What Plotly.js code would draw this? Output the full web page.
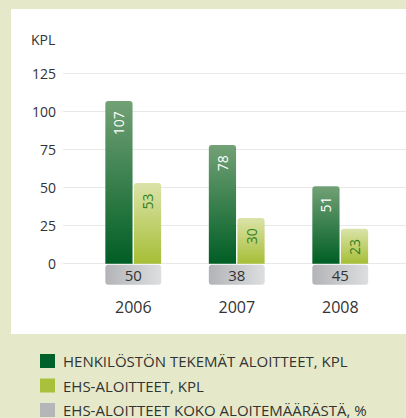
<!DOCTYPE html>
<html><head><meta charset="utf-8">
<script src="https://cdn.plot.ly/plotly-3.0.1.min.js"></script>
<style>html,body{margin:0;padding:0;background:#e5e9c9;}</style>
</head><body><div id="chart" style="width:406px;height:418px;"></div>
<script>
// ---- data ----
const years = ['2006', '2007', '2008'];
const staffIdeas = [107, 78, 51];          // HENKILÖSTÖN TEKEMÄT ALOITTEET, KPL
const ehsIdeas = [53, 30, 23];             // EHS-ALOITTEET, KPL
const ehsShare = [50, 38, 45];             // EHS-ALOITTEET KOKO ALOITEMÄÄRÄSTÄ, %
const seriesNames = ['HENKILÖSTÖN TEKEMÄT ALOITTEET, KPL', 'EHS-ALOITTEET, KPL', 'EHS-ALOITTEET KOKO ALOITEMÄÄRÄSTÄ, %'];
const yTicks = [0, 25, 50, 75, 100, 125];
const unitLabel = 'KPL';

// ---- styling / layout constants ----
const W = 406, H = 418;
const M = {l: 63, r: 0, t: 66, b: 133};
const FONT = '"Open Sans", "Noto Sans", sans-serif';
const TXT = '#333333';
const pw = W - M.l - M.r, ph = H - M.t - M.b;
const px = x => (x - M.l) / pw;
const py = y => (H - M.b - y) / ph;
const legendColors = ['#00612a', '#a8c03c', '#b5b6b8'];
const boxBase = -13.8, boxHeight = 13.1;
const pad = '\u00a0\u00a0';

const traces = [
  {type: 'bar', x: years, y: staffIdeas, name: seriesNames[0],
   offset: -0.27, width: 0.263,
   marker: {color: legendColors[0], cornerradius: 3, line: {width: 0}},
   text: staffIdeas.map(v => String(v) + pad), textposition: 'inside', insidetextanchor: 'end',
   textangle: -90, constraintext: 'none',
   insidetextfont: {family: FONT, size: 14, color: '#ffffff'}, hoverinfo: 'skip'},
  {type: 'bar', x: years, y: ehsIdeas, name: seriesNames[1],
   offset: 0.006, width: 0.263,
   marker: {color: legendColors[1], cornerradius: 3, line: {width: 0}},
   text: ehsIdeas.map(v => String(v) + pad), textposition: 'inside', insidetextanchor: 'end',
   textangle: -90, constraintext: 'none',
   insidetextfont: {family: FONT, size: 14, color: '#2f7f22'}, hoverinfo: 'skip'},
  {type: 'bar', x: years, y: years.map(() => boxHeight), base: boxBase, name: seriesNames[2],
   offset: -0.27, width: 0.54,
   marker: {color: legendColors[2], cornerradius: 3, line: {width: 0}},
   text: ehsShare.map(String), textposition: 'inside', insidetextanchor: 'middle',
   textangle: 0, constraintext: 'none',
   insidetextfont: {family: FONT, size: 15, color: TXT}, hoverinfo: 'skip'}
];

const shapes = [
  {type: 'rect', xref: 'paper', yref: 'paper', layer: 'below',
   x0: px(11), x1: px(420), y0: py(334), y1: py(9),
   fillcolor: '#ffffff', line: {width: 0}}
];
const annotations = [
  {xref: 'paper', yref: 'paper', x: px(29), y: py(40), xanchor: 'left', yanchor: 'middle',
   text: unitLabel, showarrow: false, font: {family: FONT, size: 14, color: TXT}}
];
const rowY = [361, 385.5, 410];
seriesNames.forEach((n, i) => {
  shapes.push({type: 'rect', xref: 'paper', yref: 'paper', layer: 'above',
    x0: px(40), x1: px(55), y0: py(rowY[i] + 7), y1: py(rowY[i] - 7),
    fillcolor: legendColors[i], line: {width: 0}});
  annotations.push({xref: 'paper', yref: 'paper', x: px(61), y: py(rowY[i]),
    xanchor: 'left', yanchor: 'middle', text: n, showarrow: false,
    font: {family: FONT, size: 15, color: TXT}});
});

const layout = {
  width: W, height: H, margin: M,
  paper_bgcolor: '#e5e9c9', plot_bgcolor: 'rgba(0,0,0,0)',
  barmode: 'overlay', showlegend: false,
  font: {family: FONT, color: TXT},
  xaxis: {type: 'category', range: [-0.679, 2.635], showgrid: false, zeroline: false,
    showline: false, ticks: '', ticklabelstandoff: 11,
    tickfont: {family: FONT, size: 16, color: TXT}, fixedrange: true},
  yaxis: {range: [-14, 130], tickvals: yTicks, ticktext: yTicks.map(String),
    showgrid: true, gridcolor: '#e8e8e8', gridwidth: 1.5, zeroline: false,
    showline: false, ticks: '', ticklabelstandoff: 6,
    tickfont: {family: FONT, size: 14, color: TXT}, fixedrange: true},
  shapes: shapes, annotations: annotations
};

const gd = document.getElementById('chart');
Plotly.newPlot(gd, traces, layout, {staticPlot: true, displayModeBar: false}).then(() => {
  const svg = gd.querySelector('.main-svg');
  const NS = 'http://www.w3.org/2000/svg';
  let defs = svg.querySelector('defs');
  if (!defs) { defs = document.createElementNS(NS, 'defs'); svg.insertBefore(defs, svg.firstChild); }
  const grads = [
    {id: 'gDark', x2: 0, y2: 1, stops: ['#72a176', '#005e24']},
    {id: 'gLight', x2: 0, y2: 1, stops: ['#dbe3a9', '#a6be36']},
    {id: 'gGray', x2: 1, y2: 0, stops: ['#b3b4b7', '#dddedf']}
  ];
  grads.forEach(g => {
    const lg = document.createElementNS(NS, 'linearGradient');
    lg.setAttribute('id', g.id);
    lg.setAttribute('x1', 0); lg.setAttribute('y1', 0);
    lg.setAttribute('x2', g.x2); lg.setAttribute('y2', g.y2);
    g.stops.forEach((c, k) => {
      const s = document.createElementNS(NS, 'stop');
      s.setAttribute('offset', k ? '1' : '0');
      s.setAttribute('stop-color', c);
      lg.appendChild(s);
    });
    defs.appendChild(lg);
  });
  const tr = gd.querySelectorAll('.barlayer .trace');
  tr.forEach((t, i) => {
    t.querySelectorAll('.point path').forEach(p => { p.style.fill = 'url(#' + grads[i].id + ')'; });
  });
});
</script>
</body></html>
